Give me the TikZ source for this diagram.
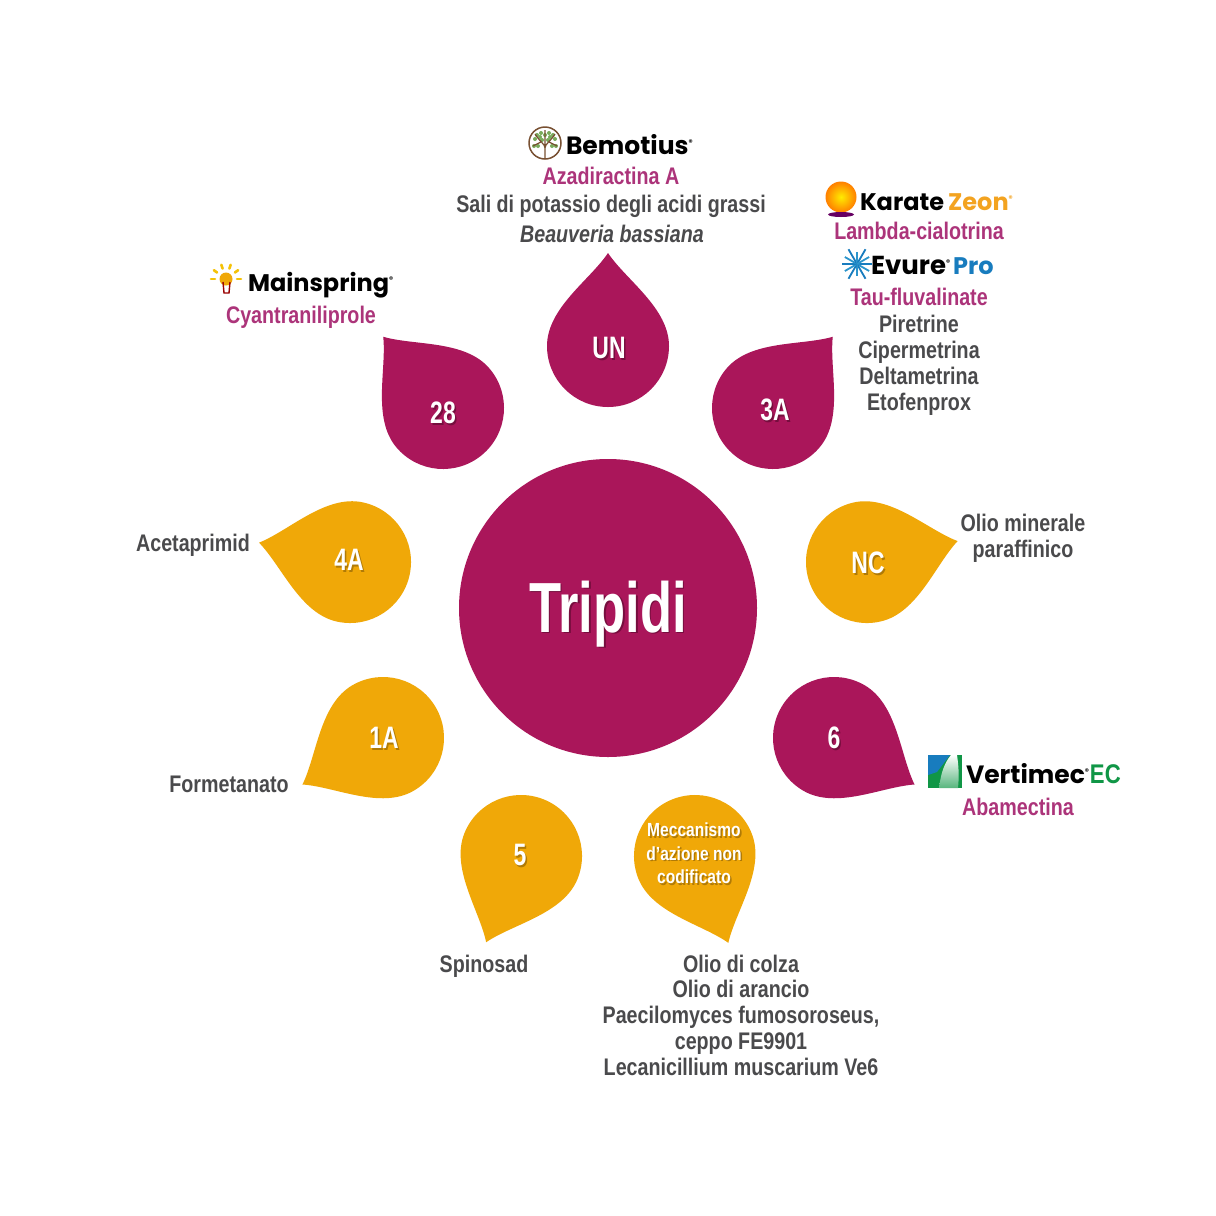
\documentclass[tikz,border=0pt]{standalone}
\usepackage{fontspec}
\setmainfont{Liberation Sans}[FakeStretch=0.82]
\newfontfamily\narrowfont{Liberation Sans}[FakeStretch=0.74]
\newfontfamily\logofont{Poppins}
\usetikzlibrary{positioning}
\definecolor{wine}{RGB}{170,22,90}
\definecolor{amber}{RGB}{240,168,8}
\definecolor{winedark}{RGB}{118,14,62}
\definecolor{amberdark}{RGB}{176,122,6}
\definecolor{actives}{RGB}{172,52,122}
\definecolor{slategrey}{RGB}{74,74,76}
\definecolor{zeonorange}{RGB}{243,163,32}
\definecolor{probluee}{RGB}{24,124,190}
\definecolor{ecgreen}{RGB}{16,150,70}
\definecolor{barkbrown}{RGB}{120,80,50}
\definecolor{leafgreen}{RGB}{120,170,90}
\newcommand{\shadowed}[2]{\rlap{\raisebox{-1.6pt}{\hspace{1.6pt}\textcolor{#1}{#2}}}#2}
\newcommand{\regmark}{\raisebox{9pt}{\fontsize{8}{8}\selectfont ®}}
\tikzset{
  every node/.style={inner sep=0pt,outer sep=0pt,align=center},
  greytext/.style={text=slategrey,anchor=base,font=\fontsize{24}{26}\selectfont\bfseries},
  activetext/.style={text=actives,anchor=base,font=\fontsize{24}{26}\selectfont\bfseries},
  petaltext/.style={text=white,font=\narrowfont\fontsize{31}{33}\selectfont\bfseries},
  logotext/.style={font=\logofont\fontsize{24}{26}\selectfont\bfseries,anchor=base west},
}
\begin{document}
\begin{tikzpicture}[x=1pt,y=-1pt]
\useasboundingbox (0,0) rectangle (1216,1216);
\fill[white] (0,0) rectangle (1216,1216);
% centre
\node[circle,fill=wine,minimum size=298pt] (centre) at (608,608) {};
\node[text=white,anchor=base,font=\narrowfont\fontsize{71}{73}\selectfont\bfseries] (title) at (608,632) {\shadowed{winedark}{Tripidi}};
% petals: name/x/y/rotation/colour
\foreach \pname/\cx/\cy/\ang/\col in {un/608/346/0/wine,three/773/408/-40/wine,twoeight/443/408/40/wine,nc/867/562/-77/amber,foura/350/562/78/amber,six/834/738/-120/wine,onea/383/738/120/amber,five/521/856/158/amber,mecc/695/856/-159/amber}{
\fill[\col,shift={(\cx,\cy)},rotate=\ang] (0,-93) .. controls (18,-66) and (61,-38) .. (61,0) .. controls (61,33.7) and (33.7,61) .. (0,61) .. controls (-33.7,61) and (-61,33.7) .. (-61,0) .. controls (-61,-38) and (-18,-66) .. cycle;
}
\foreach \pname/\px/\py/\lab/\sh in {un/609/349/UN/winedark,three/775/411/3A/winedark,twoeight/443/414/28/winedark,nc/868/564/NC/amberdark,foura/349/561/4A/amberdark,six/834/739/6/winedark,onea/384/739/1A/amberdark,five/520/856/5/amberdark}{
\node[petaltext] (lab-\pname) at (\px,\py) {\shadowed{\sh}{\lab}};
}
\node[petaltext,font=\fontsize{19}{23.5}\selectfont\bfseries] (lab-mecc) at (694,854) {\shadowed{amberdark}{Meccanismo}\\\shadowed{amberdark}{d’azione non}\\\shadowed{amberdark}{codificato}};
% labels
\node[activetext] (azadir) at (611,184) {Azadiractina A};
\node[greytext] (sali) at (611,212) {Sali di potassio degli acidi grassi};
\node[greytext,font=\fontsize{24}{26}\selectfont\bfseries\itshape] (beauv) at (612,242) {Beauveria bassiana};
\node[activetext] (lambda) at (919,239.5) {Lambda-cialotrina};
\node[activetext] (tau) at (919,305) {Tau-fluvalinate};
\foreach[count=\xi] \t in {Piretrine,Cipermetrina,Deltametrina,Etofenprox}{
\node[greytext] (three-\xi) at (919,306+26*\xi) {\t};
}
\node[activetext] (cyan) at (301,323) {Cyantraniliprole};
\node[greytext] (olio) at (1023,531) {Olio minerale};
\node[greytext] (paraf) at (1023,557) {paraffinico};
\node[greytext] (aceta) at (193,551) {Acetaprimid};
\node[greytext] (forme) at (229,792) {Formetanato};
\node[greytext] (spino) at (484,972) {Spinosad};
\foreach[count=\xi] \t in {Olio di colza,Olio di arancio,{Paecilomyces fumosoroseus,},ceppo FE9901,Lecanicillium muscarium Ve6}{
\node[greytext] (mecc-\xi) at (741,946.2+25.8*\xi) {\t};
}
\node[activetext] (abam) at (1018,815) {Abamectina};
% Bemotius logo
\draw[fill=white,draw=barkbrown,line width=1.5pt] (545,143) circle (16);
\foreach \dx/\dy in {-10/-4,-7/3,-11/3,10/-4,7/3,11/3,-4/-10,4/-10,-3/-3,3/-3,0/-8,-5/-6,5/-6,-8/-8,8/-8}{
\fill[leafgreen] (545+\dx,143+\dy) circle (2);
}
\draw[barkbrown,line width=1.2pt] (545,158) -- (545,148) .. controls (545,144) and (540,142) .. (535,134) (545,148) .. controls (545,144) and (550,142) .. (555,134) (545,148) -- (545,130) (541,142) -- (533,146) (549,142) -- (557,146);
\node[logotext,font=\logofont\fontsize{25}{27}\selectfont\bfseries] (bemotius) at (566,154) {Bemotius\regmark};
% Karate Zeon logo
\shade[inner color=yellow!85!orange,outer color=orange] (841,197) circle (15.5);
\fill[black!35!blue!60!red] (841,214.5) ellipse (13 and 2.5);
\node[logotext] (karate) at (860,210) {Karate};
\node[logotext,right=4pt of karate.base east,anchor=base west,text=zeonorange] (zeon) {Zeon\regmark};
% Evure Pro logo
\foreach \a/\r/\c in {0/15/probluee,30/14/cyan!50!probluee,60/17/probluee,90/12/cyan!50!probluee,120/17/probluee,150/14/cyan!50!probluee,180/15/probluee,210/14/cyan!50!probluee,240/17/probluee,270/12/cyan!50!probluee,300/17/probluee,330/14/cyan!50!probluee}{
\draw[\c,line width=1.8pt] (857,264) -- ++(\a:\r);
}
\node[logotext,font=\logofont\fontsize{26}{28}\selectfont\bfseries] (evure) at (871,274) {Evure\regmark};
\node[logotext,right=3pt of evure.base east,anchor=base west,text=probluee] (pro) {Pro};
% Mainspring logo
\foreach \a in {0,-36,-72,-108,-144,-180}{
\draw[amber!70!yellow,line width=2.6pt,line cap=round] (226,279) ++(\a:11) -- ++(\a:4);
}
\fill[amber] (226,279) circle (6.5);
\draw[red!60!black,line width=1.4pt] (223,282) -- (224,293) -- (229,293) -- (230,282);
\node[logotext] (mainspring) at (248,291) {Mainspring\regmark};
% Vertimec EC logo
\fill[ecgreen] (928,755) rectangle (962,788);
\fill[probluee] (928,755) -- (950,755) -- (937,772) -- (928,775) -- cycle;
\shade[top color=white,bottom color=ecgreen!70] (939,788) .. controls (941,772) and (945,762) .. (951,755) -- (957,755) .. controls (959,768) and (959,778) .. (958,788) -- cycle;
\node[logotext,font=\logofont\fontsize{25}{27}\selectfont\bfseries] (vertimec) at (966,783) {Vertimec\regmark};
\node[logotext,right=1pt of vertimec.base east,anchor=base west,text=ecgreen,font=\fontsize{27}{29}\selectfont\bfseries] (ec) {EC};
\end{tikzpicture}
\end{document}
